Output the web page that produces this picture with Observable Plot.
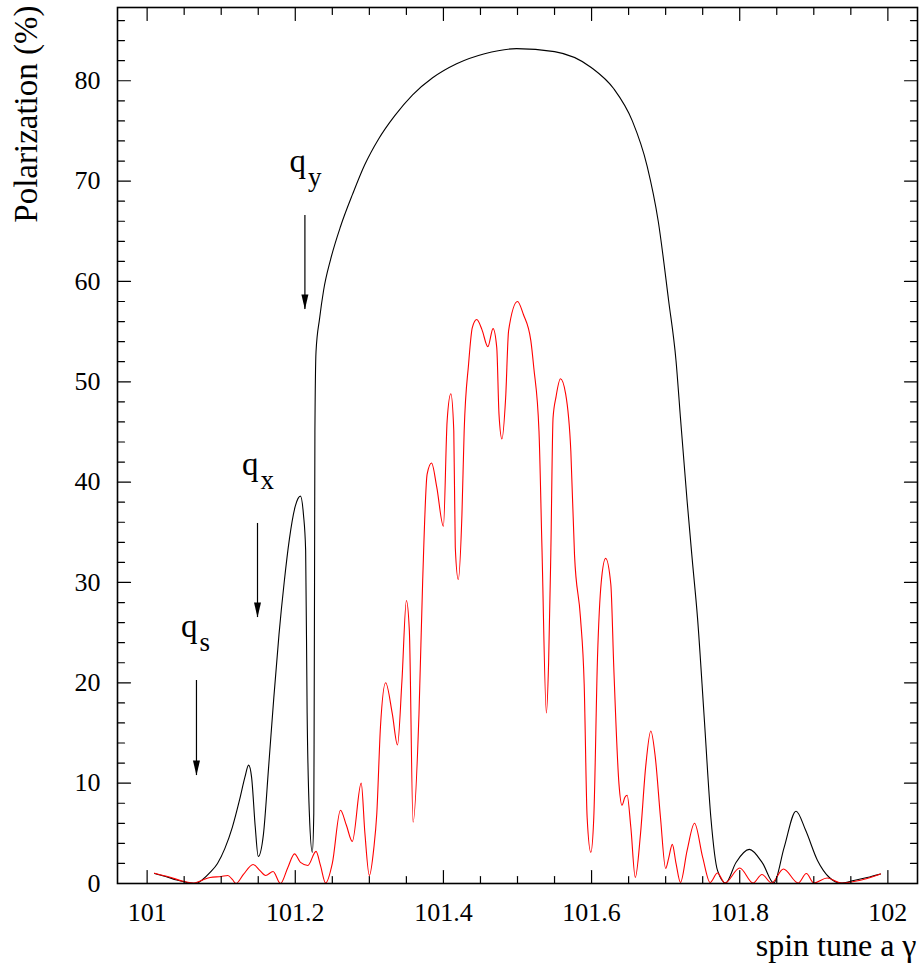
<!DOCTYPE html>
<html><head><meta charset="utf-8">
<script src="https://cdn.jsdelivr.net/npm/d3@7"></script>
<script src="https://cdn.jsdelivr.net/npm/@observablehq/plot@0.6"></script>
<style>
html,body{margin:0;padding:0;background:#fff;}
#chart svg, #chart svg text { font-family: "Liberation Serif", "Times New Roman", serif !important; }
</style>
</head><body><div id="chart"></div>
<script>
// ---- data: black curve (spin tune, polarization %)
const blackX = [101.010,101.025,101.040,101.055,101.066,101.075,101.085,101.095,101.105,101.115,101.125,101.132,101.137,101.141,101.146,101.150,101.157,101.164,101.171,101.178,101.185,101.192,101.200,101.207,101.211,101.214,101.216,101.219,101.223,101.225,101.2255,101.226,101.2265,101.228,101.2328,101.2382,101.2477,101.2612,101.2774,101.2936,101.3125,101.3341,101.3584,101.3854,101.4178,101.4556,101.4987,101.550,101.600,101.630,101.655,101.675,101.690,101.704,101.714,101.720,101.729,101.736,101.743,101.752,101.761,101.770,101.781,101.795,101.813,101.831,101.846,101.860,101.876,101.889,101.905,101.921,101.936,101.954,101.972,101.990];
const blackY = [1.00,0.70,0.35,0.08,0.00,0.40,1.10,2.00,3.50,5.60,8.40,10.6,11.8,10.6,5.6,2.7,4.9,11.6,18.5,24.8,30.0,34.3,37.6,38.6,36.8,33.2,17.0,7.0,3.1,7.0,17.0,30.0,45.0,53.0,56.3,59.1,62.2,65.5,68.7,71.6,74.2,76.5,78.6,80.3,81.7,82.7,83.2,82.9,81.3,79.2,76.0,71.5,66.0,58.1,52.1,46.4,38.1,32.2,26.5,16.6,6.6,1.3,0.05,2.1,3.4,2.0,0.05,3.6,7.2,5.3,2.3,0.6,0.05,0.3,0.6,0.95];
// ---- data: red curve
const redX = [101.010,101.030,101.050,101.063,101.075,101.085,101.100,101.109,101.115,101.120,101.130,101.143,101.152,101.160,101.170,101.180,101.190,101.199,101.207,101.217,101.228,101.234,101.241,101.250,101.261,101.269,101.277,101.289,101.294,101.300,101.306,101.310,101.315,101.322,101.331,101.338,101.344,101.350,101.354,101.359,101.367,101.372,101.378,101.384,101.391,101.400,101.405,101.410,101.414,101.416,101.420,101.425,101.428,101.434,101.439,101.445,101.452,101.460,101.467,101.472,101.475,101.479,101.484,101.488,101.500,101.508,101.518,101.522,101.529,101.533,101.539,101.542,101.545,101.548,101.552,101.558,101.565,101.572,101.577,101.585,101.590,101.594,101.599,101.603,101.608,101.613,101.619,101.626,101.630,101.637,101.641,101.645,101.648,101.653,101.659,101.666,101.673,101.680,101.686,101.693,101.700,101.704,101.709,101.714,101.720,101.729,101.739,101.750,101.760,101.770,101.780,101.800,101.818,101.830,101.843,101.859,101.879,101.890,101.900,101.918,101.937,101.954,101.972,101.990];
const redY = [1.03,0.65,0.20,0.05,0.35,0.60,0.70,0.80,0.40,0.00,0.90,1.90,1.30,0.80,1.20,0.00,1.60,2.95,2.10,1.80,3.20,1.80,0.05,2.00,7.30,5.80,4.20,10.0,5.0,0.8,3.5,6.9,15.6,20.0,16.9,13.8,20.2,28.2,25.2,6.1,16.9,30.2,40.8,41.9,39.5,35.6,46.1,48.8,45.1,33.5,30.3,36.8,45.1,51.8,55.4,56.2,55.2,53.5,55.3,53.4,46.8,44.3,48.4,55.1,58.0,56.7,54.1,51.4,45.1,33.5,17.0,22.0,33.0,46.4,48.5,50.3,48.8,43.1,32.7,26.5,19.9,6.6,3.1,6.6,22.5,30.0,32.4,29.8,21.5,9.9,7.8,8.6,8.8,5.6,0.6,4.9,11.6,15.2,12.6,6.6,1.5,2.5,3.9,2.0,0.1,3.3,6.0,2.6,0.1,1.05,0.05,1.55,0.05,0.9,0.05,1.45,0.05,1.0,0.05,0.55,0.05,0.2,0.5,0.95];

// ---- axes
const xDomain = [100.96, 102.04];
const yDomain = [0, 87.3];
const xMajorTicks = [101, 101.2, 101.4, 101.6, 101.8, 102];
const xTickLabels = ["101", "101.2", "101.4", "101.6", "101.8", "102"];
const xMinorTicks = [101.05,101.1,101.15,101.25,101.3,101.35,101.45,101.5,101.55,101.65,101.7,101.75,101.85,101.9,101.95];
const yMajorTicks = [0, 10, 20, 30, 40, 50, 60, 70, 80];
const yTickLabels = ["0", "10", "20", "30", "40", "50", "60", "70", "80"];
const yMinorTicks = [2,4,6,8,12,14,16,18,22,24,26,28,32,34,36,38,42,44,46,48,52,54,56,58,62,64,66,68,72,74,76,78,82,84,86];
const xTitle = "spin tune a γ";
const yTitle = "Polarization (%)";

// ---- annotations (tune arrows)
const annSub = ["s", "x", "y"];
const annX = [101.0666, 101.149, 101.213];
const annTop = [20.23, 35.88, 66.57];
const annTip = [10.76, 26.51, 57.2];
const annLabelY = [24.57, 40.69, 70.92];

const black = blackX.map((x, i) => ({x, y: blackY[i]}));
const red = redX.map((x, i) => ({x, y: redY[i]}));
const ann = annSub.map((s, i) => ({s, x: annX[i], top: annTop[i], tip: annTip[i], ly: annLabelY[i]}));
const xMaj = xMajorTicks.map((v, i) => ({v, t: xTickLabels[i]}));
const yMaj = yMajorTicks.map((v, i) => ({v, t: yTickLabels[i]}));

const FONT = "Liberation Serif";
const tickShape = {draw(ctx, l) { ctx.moveTo(0, 0); ctx.lineTo(0, -l); }};
const MAJ = 13, MIN = 7;
const tickStyle = {shape: tickShape, anchor: "start", stroke: "black", strokeWidth: 1.2};

const chart = Plot.plot({
  width: 922, height: 963,
  marginLeft: 117, marginRight: 5, marginTop: 7, marginBottom: 80,
  style: {fontFamily: FONT, background: "#fff", color: "black"},
  x: {domain: xDomain, axis: null},
  y: {domain: yDomain, axis: null},
  marks: [
    Plot.line(black, {x: "x", y: "y", curve: "monotone-x", stroke: "black", strokeWidth: 1.1}),
    Plot.line(red, {x: "x", y: "y", curve: "monotone-x", stroke: "#ff0000", strokeWidth: 1.1}),
    // ticks bottom/top
    Plot.vector(xMaj, {x: "v", y: yDomain[0], length: MAJ, rotate: 0, ...tickStyle}),
    Plot.vector(xMinorTicks, {x: d => d, y: yDomain[0], length: MIN, rotate: 0, ...tickStyle}),
    Plot.vector(xMaj, {x: "v", y: yDomain[1], length: MAJ, rotate: 180, ...tickStyle}),
    Plot.vector(xMinorTicks, {x: d => d, y: yDomain[1], length: MIN, rotate: 180, ...tickStyle}),
    // ticks left/right
    Plot.vector(yMaj, {y: "v", x: xDomain[0], length: MAJ, rotate: 90, ...tickStyle}),
    Plot.vector(yMinorTicks, {y: d => d, x: xDomain[0], length: MIN, rotate: 90, ...tickStyle}),
    Plot.vector(yMaj, {y: "v", x: xDomain[1], length: MAJ, rotate: -90, ...tickStyle}),
    Plot.vector(yMinorTicks, {y: d => d, x: xDomain[1], length: MIN, rotate: -90, ...tickStyle}),
    Plot.frame({stroke: "black", strokeWidth: 1.6}),
    // tick labels
    Plot.text(xMaj, {x: "v", frameAnchor: "bottom", text: "t", dy: 29, fontSize: 26, fontFamily: FONT, lineAnchor: "middle", fill: "black"}),
    Plot.text(yMaj, {y: "v", frameAnchor: "left", text: "t", dx: -17, textAnchor: "end", fontSize: 26, fontFamily: FONT, lineAnchor: "middle", fill: "black"}),
    // titles
    Plot.text([yTitle], {frameAnchor: "top-left", rotate: -90, textAnchor: "end", lineAnchor: "bottom", dx: -81, dy: -2, fontSize: 33, fontFamily: FONT, fill: "black"}),
    Plot.text([xTitle], {frameAnchor: "bottom-right", textAnchor: "end", lineAnchor: "bottom", dx: -1, dy: 72, fontSize: 32, fontFamily: FONT, fill: "black"}),
    // annotation arrows
    Plot.ruleX(ann, {x: "x", y1: "top", y2: "tip", stroke: "black", strokeWidth: 1.2}),
    Plot.vector(ann, {x: "x", y: "tip", rotate: 180, anchor: "end", length: 15, r: 3.5, shape: "spike", fill: "black", stroke: "none"}),
    Plot.text(ann, {x: "x", y: "ly", text: d => "q", textAnchor: "end", lineAnchor: "bottom", dx: 1, fontSize: 33, fontFamily: FONT, fill: "black"}),
    Plot.text(ann, {x: "x", y: "ly", text: "s", textAnchor: "start", lineAnchor: "bottom", dx: 3, dy: 14, fontSize: 27, fontFamily: FONT, fill: "black"})
  ]
});
document.getElementById("chart").appendChild(chart);
</script>
</body></html>
